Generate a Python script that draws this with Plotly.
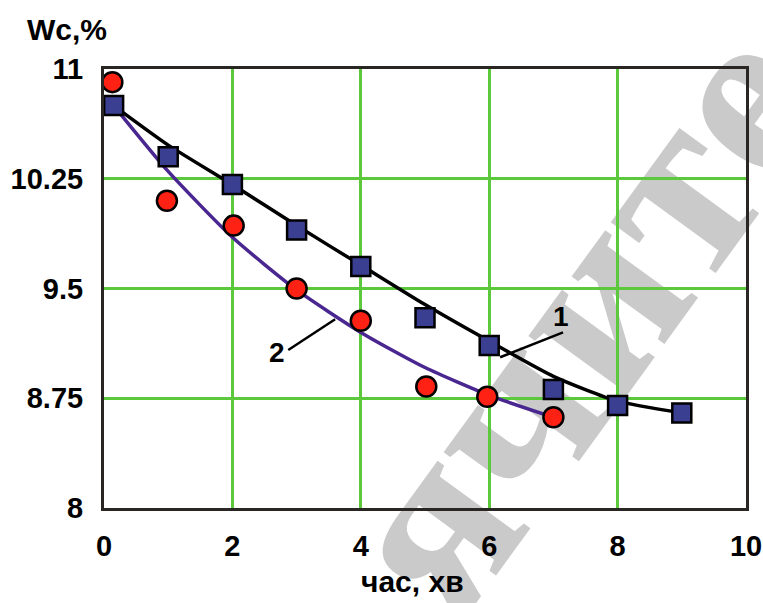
import plotly.graph_objects as go

# Measured moisture content Wc (%) versus time (min)
t_sq = [0.15, 1, 2, 3, 4, 5, 6, 7, 8, 9]
wc_sq = [10.75, 10.40, 10.21, 9.90, 9.65, 9.30, 9.11, 8.81, 8.70, 8.65]

t_ci = [0.13, 0.98, 2.02, 3.0, 4.0, 5.02, 5.97, 7.0]
wc_ci = [10.91, 10.10, 9.93, 9.50, 9.28, 8.83, 8.76, 8.62]

# Smoothed curves (1 and 2)
t_c1 = [0.15, 1, 2, 3, 4, 5, 6, 7, 8, 9]
wc_c1 = [10.75, 10.48, 10.21, 9.93, 9.66, 9.39, 9.14, 8.90, 8.73, 8.65]

t_c2 = [0.15, 1, 2, 3, 4, 5, 6, 7]
wc_c2 = [10.75, 10.30, 9.85, 9.49, 9.20, 8.96, 8.77, 8.62]

x_ticks = [0, 2, 4, 6, 8, 10]
y_ticks = [8, 8.75, 9.5, 10.25, 11]
y_tick_text = ["8", "8.75", "9.5", "10.25", "11"]

FONT = "Liberation Sans, Arial, sans-serif"
GRID = "#5cc83c"
AXIS = "#2a2623"

fig = go.Figure()

fig.add_trace(go.Scatter(x=t_c1, y=wc_c1, mode="lines", line=dict(color="black", width=3.5, shape="spline", smoothing=0.6), hoverinfo="skip", showlegend=False))
fig.add_trace(go.Scatter(x=t_c2, y=wc_c2, mode="lines", line=dict(color="#4a2790", width=3.5, shape="spline", smoothing=0.6), hoverinfo="skip", showlegend=False))
fig.add_trace(go.Scatter(x=t_sq, y=wc_sq, mode="markers", marker=dict(symbol="square", size=19, color="#3b3f92", line=dict(color="black", width=2.5)), showlegend=False, cliponaxis=False))
fig.add_trace(go.Scatter(x=t_ci, y=wc_ci, mode="markers", marker=dict(symbol="circle", size=20, color="#ff2214", line=dict(color="black", width=2.5)), showlegend=False, cliponaxis=False))

# Curve labels with leader lines
fig.add_shape(type="line", x0=6.17, y0=9.03, x1=7.15, y1=9.20, line=dict(color="black", width=2.5))
fig.add_shape(type="line", x0=2.87, y0=9.08, x1=3.6, y1=9.29, line=dict(color="black", width=2.5))
fig.add_annotation(x=7.12, y=9.31, text="<b>1</b>", showarrow=False, font=dict(family=FONT, size=28, color="black"))
fig.add_annotation(x=2.69, y=9.06, text="<b>2</b>", showarrow=False, font=dict(family=FONT, size=28, color="black"))

# Faint diagonal watermark behind the chart
fig.add_shape(type="rect", xref="paper", yref="paper", x0=0.79, x1=0.87, y0=0.68, y1=0.76,
              layer="below", fillcolor="rgba(0,0,0,0)", line=dict(width=0),
              label=dict(text="<b>ячитель</b>", textangle=-54, textposition="middle center",
                         font=dict(family="Liberation Serif, Times New Roman, serif", size=250, color="#cacaca")))

# Titles
fig.add_annotation(xref="paper", yref="paper", x=-0.123, y=1.09, xanchor="left", yanchor="middle",
                   text="<b>Wc,%</b>", showarrow=False, font=dict(family=FONT, size=30, color="black"))
fig.add_annotation(xref="paper", yref="paper", x=0.48, y=-0.168, xanchor="center", yanchor="middle",
                   text="<b>час, хв</b>", showarrow=False, font=dict(family=FONT, size=30, color="black"))

fig.update_xaxes(range=[0, 10], tickvals=x_ticks, ticktext=[f"<b>{v}</b>" for v in x_ticks],
                 showgrid=True, gridcolor=GRID, gridwidth=2.5, zeroline=False, automargin=False,
                 showline=True, linecolor=AXIS, linewidth=3, mirror=True, ticks="",
                 ticklabelstandoff=10, tickfont=dict(family=FONT, size=29, color="black"))
fig.update_yaxes(range=[8, 11], tickvals=y_ticks, ticktext=[f"<b>{v}</b>" for v in y_tick_text],
                 showgrid=True, gridcolor=GRID, gridwidth=2.5, zeroline=False, automargin=False,
                 showline=True, linecolor=AXIS, linewidth=3, mirror=True, ticks="",
                 ticklabelstandoff=12, tickfont=dict(family=FONT, size=29, color="black"))

fig.update_layout(width=763, height=603, margin=dict(l=104, r=17, t=69, b=95, autoexpand=False),
                  paper_bgcolor="white", plot_bgcolor="rgba(0,0,0,0)", showlegend=False)

fig.write_html("out.html")
